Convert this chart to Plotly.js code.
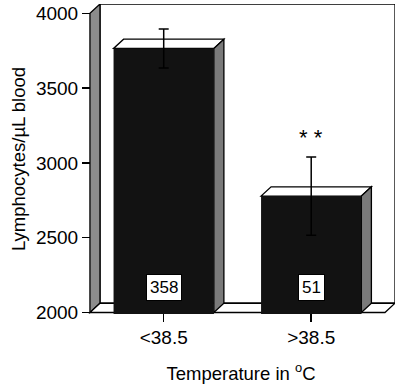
<!DOCTYPE html>
<html>
<head>
<meta charset="utf-8">
<script src="https://cdn.plot.ly/plotly-3.0.1.min.js"></script>
<style>html,body{margin:0;padding:0;background:#fff;}#chart{width:400px;height:385px;}</style>
</head>
<body>
<div id="chart"></div>
<script>
// ---- data ----
var categories = ['<38.5', '>38.5'];
var lymphocytes = [3765, 2778];
var errors = [130, 262];
var counts = ['358', '51'];
var significance = ['', '* *'];
var yTicks = [2000, 2500, 3000, 3500, 4000];

// ---- style constants ----
var BASE = 2000, TOP = 4000;
var DX = 0.068, DY = 62;      // 3D depth offset in data units
var W = 0.68;                 // bar width
var XMIN = -0.5, XMAX = 1.5;
var FONT = '"Liberation Sans", Arial, Helvetica, sans-serif';

var xs = categories.map(function (c, i) { return i; });

function poly(pts) {
  return 'M' + pts.map(function (p) { return p[0] + ',' + p[1]; }).join(' L') + ' Z';
}

var shapes = [];
// back wall
shapes.push({type: 'rect', xref: 'x', yref: 'y', layer: 'below',
  x0: XMIN + DX, x1: XMAX + DX, y0: BASE + DY, y1: TOP + DY,
  fillcolor: '#ffffff', line: {color: '#000', width: 1.3}});
// left wall
shapes.push({type: 'path', xref: 'x', yref: 'y', layer: 'below',
  path: poly([[XMIN, BASE], [XMIN + DX, BASE + DY], [XMIN + DX, TOP + DY], [XMIN, TOP]]),
  fillcolor: '#8c8c8c', line: {color: '#000', width: 1.3}});
// floor
shapes.push({type: 'path', xref: 'x', yref: 'y', layer: 'below',
  path: poly([[XMIN, BASE], [XMAX, BASE], [XMAX + DX, BASE + DY], [XMIN + DX, BASE + DY]]),
  fillcolor: '#ffffff', line: {color: '#000', width: 1.3}});
// bar tops and sides
xs.forEach(function (x, i) {
  var v = lymphocytes[i], l = x - W / 2, r = x + W / 2;
  shapes.push({type: 'path', xref: 'x', yref: 'y', layer: 'below',
    path: poly([[l, v], [r, v], [r + DX, v + DY], [l + DX, v + DY]]),
    fillcolor: '#ffffff', line: {color: '#000', width: 1.3}});
  shapes.push({type: 'path', xref: 'x', yref: 'y', layer: 'below',
    path: poly([[r, BASE], [r + DX, BASE + DY], [r + DX, v + DY], [r, v]]),
    fillcolor: '#7a7a7a', line: {color: '#000', width: 1.3}});
});

var annotations = [];
xs.forEach(function (x, i) {
  annotations.push({x: x, y: BASE + 165, xref: 'x', yref: 'y', text: counts[i],
    showarrow: false, bgcolor: '#ffffff', bordercolor: '#000', borderwidth: 1, borderpad: 3,
    font: {family: FONT, size: 17, color: '#000'}});
  if (significance[i]) {
    annotations.push({x: x, y: lymphocytes[i] + errors[i] + 130, xref: 'x', yref: 'y',
      text: significance[i], showarrow: false,
      font: {family: FONT, size: 22, color: '#000'}});
  }
});

var trace = {
  type: 'bar', x: xs, y: lymphocytes, base: 0, width: W,
  marker: {color: '#121212', line: {width: 0}},
  error_y: {type: 'data', array: errors, visible: true, color: '#000', thickness: 1.5, width: 5},
  hoverinfo: 'skip'
};

var layout = {
  width: 400, height: 385,
  margin: {l: 87, r: 5, t: 4, b: 71},
  paper_bgcolor: '#fff', plot_bgcolor: '#fff',
  showlegend: false,
  font: {family: FONT, color: '#000'},
  xaxis: {
    range: [XMIN - 0.02, XMAX + DX], tickvals: xs, ticktext: categories,
    ticks: 'outside', ticklen: 8, tickwidth: 1.5, tickcolor: '#000',
    showline: false, showgrid: false, zeroline: false,
    anchor: 'free', position: 0.0048,
    tickfont: {family: FONT, size: 19, color: '#000'},
    title: {text: 'Temperature in <sup>o</sup>C', font: {family: FONT, size: 18.5, color: '#000'}, standoff: 19},
    fixedrange: true
  },
  yaxis: {
    range: [BASE - 10, TOP + DY], tickvals: yTicks,
    ticks: 'outside', ticklen: 8, tickwidth: 1.5, tickcolor: '#000',
    showline: false, showgrid: false, zeroline: false,
    anchor: 'free', position: 0.0097,
    tickfont: {family: FONT, size: 19, color: '#000'},
    title: {text: 'Lymphocytes/µL blood', font: {family: FONT, size: 18.5, color: '#000'}, standoff: 4},
    fixedrange: true
  },
  shapes: shapes,
  annotations: annotations
};

Plotly.newPlot('chart', [trace], layout, {displayModeBar: false, staticPlot: true});
</script>
</body>
</html>
